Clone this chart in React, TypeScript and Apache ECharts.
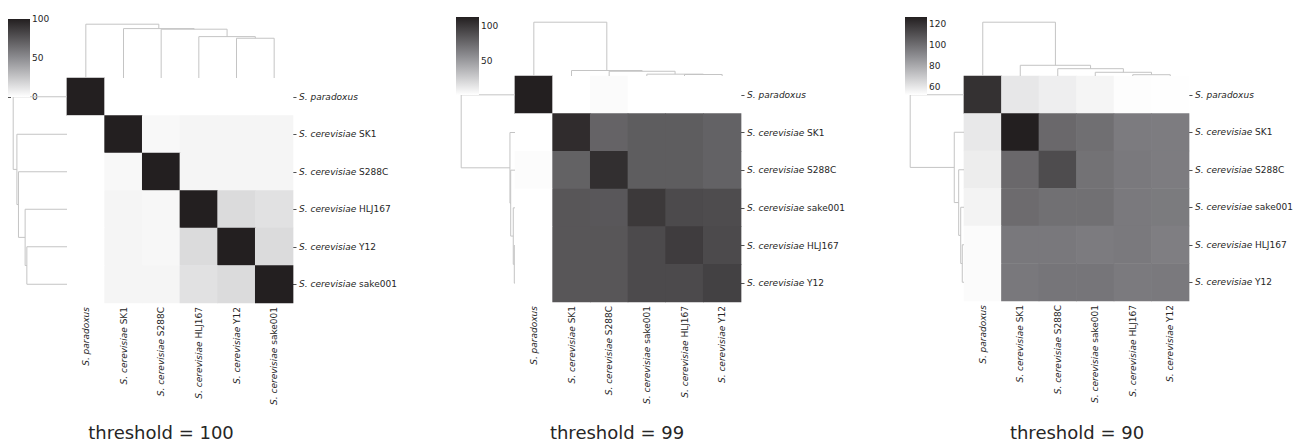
import React, { useEffect, useRef } from 'react';
import * as echarts from 'echarts';

// ---------- data ----------
const LABELS_1 = ['S. paradoxus', 'S. cerevisiae SK1', 'S. cerevisiae S288C', 'S. cerevisiae HLJ167', 'S. cerevisiae Y12', 'S. cerevisiae sake001'];
const LABELS_2 = ['S. paradoxus', 'S. cerevisiae SK1', 'S. cerevisiae S288C', 'S. cerevisiae sake001', 'S. cerevisiae HLJ167', 'S. cerevisiae Y12'];
const LABELS_3 = ['S. paradoxus', 'S. cerevisiae SK1', 'S. cerevisiae S288C', 'S. cerevisiae sake001', 'S. cerevisiae HLJ167', 'S. cerevisiae Y12'];

const VALUES_1 = [
  [100, 0, 0, 0, 0, 0],
  [0, 100, 3.2, 4.5, 4.5, 4.5],
  [0, 3.2, 100, 4.5, 4.5, 4.5],
  [0, 4.5, 3.6, 100, 15.8, 13.1],
  [0, 4.5, 3.6, 15.8, 100, 15.8],
  [0, 4.5, 4.5, 13.1, 15.8, 100],
];
const VALUES_2 = [
  [113, 1.2, 3, 1.2, 1.2, 1.2],
  [1.2, 106.4, 78.2, 81.7, 81.7, 79],
  [2.5, 79.2, 104.9, 81.7, 81.7, 79],
  [1.2, 85.3, 84.3, 99.9, 91.3, 90.3],
  [1.2, 85.3, 85.3, 91.3, 98.4, 91.3],
  [1.2, 85.3, 85.3, 91.3, 91.3, 95.9],
];
const VALUES_3 = [
  [121.0, 60.4, 58.1, 56.0, 53.4, 53.0],
  [60.1, 127, 102.2, 99.9, 95.9, 95.5],
  [58.7, 102.2, 111.9, 98.9, 96.5, 95.5],
  [56.7, 101.2, 99.6, 99.6, 96.5, 96.0],
  [54.0, 96.9, 96.9, 95.9, 96.5, 94.9],
  [54.0, 96.9, 97.9, 97.9, 96.2, 96.5],
];

// colour range of each colour bar
const RANGE_1 = [0, 100];
const RANGE_2 = [1.2, 113];
const RANGE_3 = [52.7, 127];
const CB_TICKS_1 = [0, 50, 100];
const CB_TICKS_2 = [50, 100];
const CB_TICKS_3 = [60, 80, 100, 120];

// linkage (scipy style: leaves 0..5, new nodes 6..10), identical topology in all panels
const MERGES = [[4, 5], [3, 6], [2, 7], [1, 8], [0, 9]];
// merge heights (relative to root) for each merge above
const ROW_H_1 = [0.746, 0.778, 0.902, 0.931, 1];
const COL_H_1 = [0.739, 0.769, 0.907, 0.918, 1];
const ROW_H_2 = [0.013, 0.032, 0.080, 0.094, 1];
const COL_H_2 = [0.028, 0.034, 0.088, 0.102, 1];
const ROW_H_3 = [0.032, 0.061, 0.099, 0.181, 1];
const COL_H_3 = [0.024, 0.069, 0.136, 0.199, 1];

const TITLES = ['threshold = 100', 'threshold = 99', 'threshold = 90'];

// ---------- style / layout ----------
const FONT = 'DejaVu Sans';
const TXT = '#262626';
const CMAP = ['#ffffff', '#8d8d91', '#231f20'];
const DENDRO_COLOR = '#c4c4c4';
const DSIZE = 56.5;

const PANELS = [
  { labels: LABELS_1, values: VALUES_1, range: RANGE_1, ticks: CB_TICKS_1, rowH: ROW_H_1, colH: COL_H_1,
    heat: { left: 67, top: 78, width: 226, height: 225 }, cb: { left: 8, top: 19, width: 22, height: 78 }, title: { x: 161, y: 432 } },
  { labels: LABELS_2, values: VALUES_2, range: RANGE_2, ticks: CB_TICKS_2, rowH: ROW_H_2, colH: COL_H_2,
    heat: { left: 515, top: 76, width: 226, height: 226 }, cb: { left: 456, top: 17, width: 23, height: 78 }, title: { x: 617, y: 432 } },
  { labels: LABELS_3, values: VALUES_3, range: RANGE_3, ticks: CB_TICKS_3, rowH: ROW_H_3, colH: COL_H_3,
    heat: { left: 964, top: 76, width: 225, height: 225 }, cb: { left: 905, top: 17, width: 22, height: 78 }, title: { x: 1077, y: 432 } },
];

function dendroSegments(heights: number[]) {
  const pos: number[] = [0.5, 1.5, 2.5, 3.5, 4.5, 5.5];
  const h: number[] = [0, 0, 0, 0, 0, 0];
  const segs: number[][] = [];
  MERGES.forEach(([a, b], k) => {
    const H = heights[k];
    segs.push([pos[a], pos[b], h[a], h[b], H]);
    pos.push((pos[a] + pos[b]) / 2);
    h.push(H);
  });
  return segs;
}

function labelFormatter(v: string) {
  const m = v.match(/^(S\. \S+)(.*)$/);
  if (!m) return v;
  return '{i|' + m[1] + '}' + (m[2] ? '{n|' + m[2] + '}' : '');
}
const RICH = {
  i: { fontStyle: 'italic', fontSize: 9, fontFamily: FONT, color: TXT },
  n: { fontSize: 9, fontFamily: FONT, color: TXT },
};

function buildOption() {
  const grid: any[] = [];
  const xAxis: any[] = [];
  const yAxis: any[] = [];
  const series: any[] = [];
  const visualMap: any[] = [];
  const graphic: any[] = [];

  PANELS.forEach((p, pi) => {
    const { heat, cb } = p;
    // ---- heatmap ----
    const gH = grid.length;
    grid.push({ ...heat, containLabel: false, outerBoundsMode: 'none' });
    xAxis.push({
      type: 'category', gridIndex: gH, data: p.labels, position: 'bottom',
      axisLine: { show: false }, axisTick: { show: false }, splitLine: { show: false },
      axisLabel: { rotate: 90, margin: 4, interval: 0, formatter: labelFormatter, rich: RICH, fontSize: 9, fontFamily: FONT, color: TXT },
    });
    yAxis.push({
      type: 'category', gridIndex: gH, data: p.labels, position: 'right', inverse: true,
      axisLine: { show: false }, splitLine: { show: false },
      axisTick: { show: true, length: 3.5, alignWithLabel: true, lineStyle: { color: TXT, width: 0.8 } },
      axisLabel: { margin: 6, interval: 0, formatter: labelFormatter, rich: RICH, fontSize: 9, fontFamily: FONT, color: TXT },
    });
    const heatData: number[][] = [];
    p.values.forEach((row, ri) => row.forEach((v, ci) => heatData.push([ci, ri, v])));
    const sHeat = series.length;
    series.push({
      type: 'custom', xAxisIndex: xAxis.length - 1, yAxisIndex: yAxis.length - 1,
      data: heatData, silent: true, clip: false,
      encode: { x: 0, y: 1 },
      renderItem: (params: any, api: any) => {
        const c = api.coord([api.value(0), api.value(1)]);
        const s = api.size([1, 1]);
        const pad = 0.35;
        return {
          type: 'rect',
          shape: { x: c[0] - s[0] / 2 - pad, y: c[1] - s[1] / 2 - pad, width: s[0] + 2 * pad, height: s[1] + 2 * pad },
          style: { fill: api.visual('color') },
        };
      },
    });
    visualMap.push({
      type: 'continuous', show: false, seriesIndex: sHeat, min: p.range[0], max: p.range[1],
      inRange: { color: CMAP }, dimension: 2,
    });

    // ---- column dendrogram ----
    const gC = grid.length;
    grid.push({ left: heat.left, width: heat.width, top: heat.top - DSIZE, height: DSIZE, containLabel: false, outerBoundsMode: 'none' });
    xAxis.push({ type: 'value', gridIndex: gC, min: 0, max: 6, show: false });
    yAxis.push({ type: 'value', gridIndex: gC, min: 0, max: 1.05, show: false });
    series.push({
      type: 'custom', xAxisIndex: xAxis.length - 1, yAxisIndex: yAxis.length - 1,
      data: dendroSegments(p.colH), silent: true, clip: false,
      renderItem: (params: any, api: any) => {
        const xa = api.value(0), xb = api.value(1), ha = api.value(2), hb = api.value(3), H = api.value(4);
        const pts = [api.coord([xa, ha]), api.coord([xa, H]), api.coord([xb, H]), api.coord([xb, hb])];
        return { type: 'polyline', shape: { points: pts }, style: { stroke: DENDRO_COLOR, lineWidth: 1, fill: null } };
      },
    });

    // ---- row dendrogram ----
    const gR = grid.length;
    grid.push({ left: heat.left - DSIZE, width: DSIZE, top: heat.top, height: heat.height, containLabel: false, outerBoundsMode: 'none' });
    xAxis.push({ type: 'value', gridIndex: gR, min: 0, max: 1.05, inverse: true, show: false });
    yAxis.push({ type: 'value', gridIndex: gR, min: 0, max: 6, inverse: true, show: false });
    series.push({
      type: 'custom', xAxisIndex: xAxis.length - 1, yAxisIndex: yAxis.length - 1,
      data: dendroSegments(p.rowH), silent: true, clip: false,
      renderItem: (params: any, api: any) => {
        const xa = api.value(0), xb = api.value(1), ha = api.value(2), hb = api.value(3), H = api.value(4);
        const pts = [api.coord([ha, xa]), api.coord([H, xa]), api.coord([H, xb]), api.coord([hb, xb])];
        return { type: 'polyline', shape: { points: pts }, style: { stroke: DENDRO_COLOR, lineWidth: 1, fill: null } };
      },
    });

    // ---- colour bar ----
    const gB = grid.length;
    grid.push({ ...cb, containLabel: false, outerBoundsMode: 'none' });
    xAxis.push({ type: 'value', gridIndex: gB, min: 0, max: 1, show: false });
    yAxis.push({
      type: 'value', gridIndex: gB, min: p.range[0], max: p.range[1], position: 'right',
      axisLine: { show: false }, splitLine: { show: false },
      axisTick: { show: true, length: 3, customValues: p.ticks, lineStyle: { color: TXT, width: 0.8 } },
      axisLabel: { show: true, margin: 2, customValues: p.ticks, fontSize: 9, fontFamily: FONT, color: TXT, showMinLabel: true, showMaxLabel: true },
    });
    const grad = [...CMAP].reverse().map((c, i, arr) => ({ offset: i / (arr.length - 1), color: c }));
    series.push({
      type: 'custom', xAxisIndex: xAxis.length - 1, yAxisIndex: yAxis.length - 1,
      data: [[0, 1, p.range[0], p.range[1]]], silent: true, clip: false,
      renderItem: (params: any, api: any) => {
        const a = api.coord([api.value(0), api.value(3)]);
        const b = api.coord([api.value(1), api.value(2)]);
        return {
          type: 'rect', shape: { x: a[0], y: a[1], width: b[0] - a[0], height: b[1] - a[1] },
          style: { fill: new echarts.graphic.LinearGradient(0, 0, 0, 1, grad) },
        };
      },
    });

    // ---- title ----
    graphic.push({
      type: 'text', x: p.title.x, y: p.title.y, silent: true,
      style: { text: TITLES[pi], fill: TXT, fontSize: 18, fontFamily: FONT, align: 'center', verticalAlign: 'middle' },
    });
  });

  return { animation: false, backgroundColor: '#ffffff', grid, xAxis, yAxis, series, visualMap, graphic };
}

export default function App() {
  const ref = useRef<HTMLDivElement>(null);
  useEffect(() => {
    if (!ref.current) return;
    const chart = echarts.init(ref.current, undefined, { renderer: 'svg' });
    chart.setOption(buildOption() as any);
    return () => chart.dispose();
  }, []);
  return <div ref={ref} style={{ position: 'fixed', left: 0, top: 0, width: 1295, height: 442, background: '#fff' }} />;
}
